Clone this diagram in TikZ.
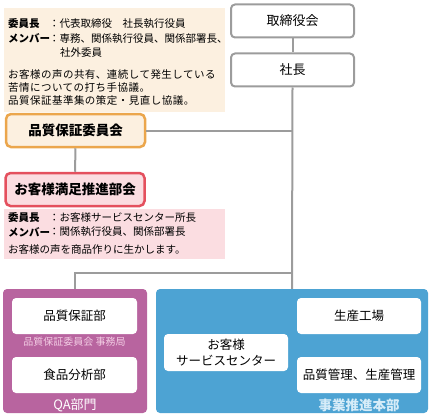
\documentclass[tikz,border=0pt]{standalone}
\usepackage{fontspec}
\setmainfont{Noto Sans CJK JP}
\usepackage{xcolor}

\definecolor{tanbg}{HTML}{FCF0E0}
\definecolor{orangeln}{HTML}{EBA64C}
\definecolor{pinkbg}{HTML}{FBDDE1}
\definecolor{redln}{HTML}{E4505E}
\definecolor{qapurple}{HTML}{B8649F}
\definecolor{bublue}{HTML}{4DA3D3}
\definecolor{lineg}{HTML}{9C9C9C}
\definecolor{subpink}{HTML}{F3CDE4}
\definecolor{subblue}{HTML}{D6ECF8}

\begin{document}
\begin{tikzpicture}[x=1pt,y=-1pt]
\tikzstyle{top}=[draw=lineg, line width=2pt, rounded corners=4pt, fill=white, minimum width=123pt, minimum height=33pt, font=\fontsize{13}{15}\selectfont]
\tikzstyle{comm}=[line width=2.5pt, rounded corners=5pt, minimum width=139pt, minimum height=33pt, font=\bfseries\fontsize{13.5}{15}\selectfont]
\tikzstyle{wbox}=[fill=white, rounded corners=4pt, minimum width=125pt, minimum height=36pt, align=center, font=\fontsize{12.5}{16}\selectfont]
\tikzstyle{info}=[anchor=west, inner sep=0pt, font=\fontsize{10.5}{12.5}\selectfont]
\tikzstyle{wide}=[info, font=\fontsize{10.5}{12.5}\selectfont\addfontfeature{LetterSpace=4.5}]
\tikzstyle{conn}=[draw=lineg, line width=2pt]
\useasboundingbox (0,0) rectangle (430,417);

% top of the company
\node (bod) [top] at (292.5,21) {取締役会};
\node (pres) [top] at (292.5,70) {社長};

% quality committee
\fill[tanbg] (4,8) rectangle (225,112);
\node (qc1) [info] at (8,24) {\bfseries 委員長};
\node (qc2) [info] at (49,24) {：代表取締役　社長執行役員};
\node (qc3) [info] at (8,38.5) {\bfseries メンバー};
\node (qc4) [info] at (49,38.5) {：専務、関係執行役員、関係部署長、};
\node (qc5) [info] at (60,53) {社外委員};
\node (qc6) [wide] at (8,75) {お客様の声の共有、連続して発生している};
\node (qc7) [wide] at (8,88) {苦情についての打ち手協議。};
\node (qc8) [wide] at (8,100.5) {品質保証基準集の策定・見直し協議。};
\node (qcc) [comm, draw=orangeln, fill=tanbg] at (75.5,130.5) {品質保証委員会};

% customer satisfaction committee
\node (csc) [comm, draw=redln, fill=pinkbg] at (75,189.5) {お客様満足推進部会};
\fill[pinkbg] (4,209) rectangle (225,259);
\node (cs1) [info] at (8,218) {\bfseries 委員長};
\node (cs2) [info] at (49,218) {：お客様サービスセンター所長};
\node (cs3) [info] at (8,232) {\bfseries メンバー};
\node (cs4) [info] at (49,232) {：関係執行役員、関係部署長};
\node (cs5) [info] at (8,250) {お客様の声を商品作りに生かします。};

% divisions
\node (qa) [fill=qapurple, rounded corners=4pt, minimum width=144pt, minimum height=124pt] at (75,351) {};
\node (bu) [fill=bublue, rounded corners=4pt, minimum width=272pt, minimum height=124pt] at (292,351) {};
\node (qad) [wbox] at (74.5,316) {品質保証部};
\node (qasub) [text=subpink, font=\fontsize{10}{12}\selectfont] at (74.5,342) {品質保証委員会 事務局};
\node (fad) [wbox] at (74.5,375) {食品分析部};
\node (qal) [text=white, font=\fontsize{13}{14}\selectfont] at (75,405) {QA部門};
\node (csv) [wbox, minimum width=124pt, minimum height=37pt] at (226,352.5) {お客様\\サービスセンター};
\node (fac) [wbox, minimum width=124pt] at (359,316) {生産工場};
\node (qpm) [wbox, minimum width=124pt] at (359,375) {品質管理、生産管理};
\node (bul) [text=subblue, font=\bfseries\fontsize{13.5}{15}\selectfont] at (359,405) {事業推進本部};

% connectors
\coordinate (j1) at (292.5,130.5);
\coordinate (j2) at (292,273);
\draw[conn] (bod) -- (pres);
\draw[conn] (pres.south) -- (bu.north);
\draw[conn] (qcc) -- (j1);
\draw[conn] (qcc) -- (csc);
\draw[conn] (qa.north) |- (j2);
\end{tikzpicture}
\end{document}
